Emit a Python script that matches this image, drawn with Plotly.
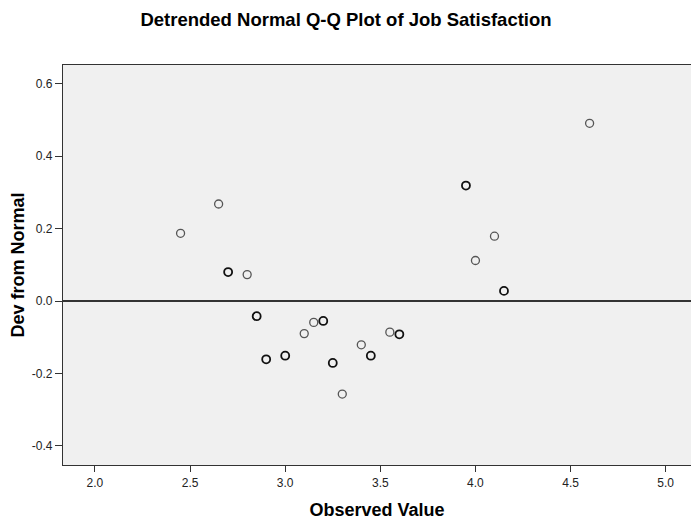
import plotly.graph_objects as go

observed = [2.45, 2.65, 2.70, 2.80, 2.85, 2.90, 3.00, 3.10, 3.15, 3.20, 3.25,
            3.30, 3.40, 3.45, 3.55, 3.60, 3.95, 4.00, 4.10, 4.15, 4.60]
dev_from_normal = [0.187, 0.268, 0.080, 0.073, -0.042, -0.161, -0.151, -0.090,
                   -0.059, -0.055, -0.171, -0.257, -0.121, -0.151, -0.086,
                   -0.092, 0.319, 0.112, 0.179, 0.028, 0.491]
count = [1, 1, 2, 1, 2, 2, 2, 1, 1, 2, 2, 1, 1, 2, 1, 2, 2, 1, 1, 2, 1]

x_ticks = [2.0, 2.5, 3.0, 3.5, 4.0, 4.5, 5.0]
y_ticks = [-0.4, -0.2, 0.0, 0.2, 0.4, 0.6]

colors = ["#111111" if c > 1 else "#555555" for c in count]
widths = [1.8 if c > 1 else 1.3 for c in count]

fig = go.Figure()
fig.add_trace(go.Scatter(
    x=observed, y=dev_from_normal, mode="markers",
    marker=dict(symbol="circle", size=8, color="rgba(0,0,0,0)",
                line=dict(color=colors, width=widths)),
    showlegend=False,
))

font = "Liberation Sans, Arial, sans-serif"
fig.update_layout(
    width=691, height=520,
    margin=dict(l=63, r=0, t=65, b=55),
    paper_bgcolor="white", plot_bgcolor="#F0F0F0",
    font=dict(family=font, color="#000000"),
    title=dict(text="<b>Detrended Normal Q-Q Plot of Job Satisfaction</b>",
               x=346 / 691, xanchor="center", y=1 - 20 / 520, yanchor="middle",
               font=dict(size=18.5, color="#000000")),
)
fig.update_xaxes(
    range=[1.832, 5.133], tickvals=x_ticks, ticktext=[f"{v:.1f}" for v in x_ticks],
    showgrid=False, zeroline=False, showline=True, linecolor="#333333", linewidth=1.3,
    mirror=True, ticks="outside", ticklen=6, tickcolor="#333333",
    tickfont=dict(size=12, color="#222222"),
    title=dict(text="<b>Observed Value</b>", font=dict(size=18), standoff=14),
)
fig.update_yaxes(
    range=[-0.453, 0.652], tickvals=y_ticks, ticktext=[f"{v:.1f}" for v in y_ticks],
    showgrid=False, zeroline=True, zerolinecolor="#333333", zerolinewidth=1.6,
    showline=True, linecolor="#333333", linewidth=1.3,
    ticks="outside", ticklen=7, tickcolor="#333333",
    tickfont=dict(size=12, color="#222222"),
    title=dict(text="<b>Dev from Normal</b>", font=dict(size=18), standoff=2),
)

fig.write_html(
    "out.html",
    config={"displayModeBar": False},
    post_script="document.body.style.margin='0';document.body.style.overflow='hidden';",
)
